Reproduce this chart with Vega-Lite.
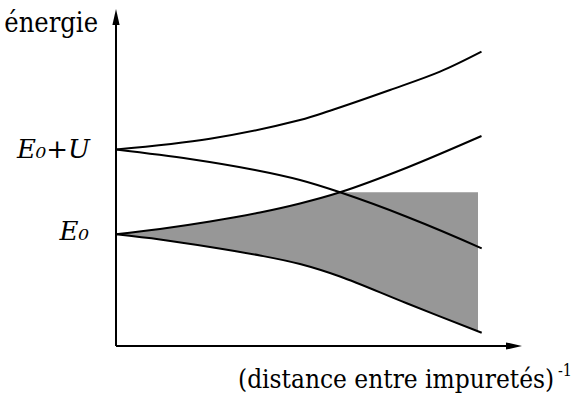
{
  "$schema": "https://vega.github.io/schema/vega-lite/v6.json",
  "width": 406,
  "height": 337,
  "autosize": {"type": "none"},
  "padding": {"left": 116, "top": 9, "right": 57, "bottom": 55},
  "config": {"view": {"stroke": null}},
  "datasets": {
    "curves": [
      {"curve": "A", "x": 0, "e": 196.5},
      {"curve": "A", "x": 94, "e": 207.3},
      {"curve": "A", "x": 184, "e": 226},
      {"curve": "A", "x": 214, "e": 235.3},
      {"curve": "A", "x": 274, "e": 256},
      {"curve": "A", "x": 324, "e": 274.3},
      {"curve": "A", "x": 365.5, "e": 294.3},
      {"curve": "B", "x": 0, "e": 196.5},
      {"curve": "B", "x": 74, "e": 187},
      {"curve": "B", "x": 139, "e": 176},
      {"curve": "B", "x": 184, "e": 166},
      {"curve": "B", "x": 224, "e": 153.7},
      {"curve": "B", "x": 290.7, "e": 129.3},
      {"curve": "B", "x": 365.7, "e": 97.7},
      {"curve": "C", "x": 0, "e": 111.7},
      {"curve": "C", "x": 44, "e": 117},
      {"curve": "C", "x": 94, "e": 124.5},
      {"curve": "C", "x": 144, "e": 133.5},
      {"curve": "C", "x": 184, "e": 142.5},
      {"curve": "C", "x": 224, "e": 153.7},
      {"curve": "C", "x": 290.7, "e": 178.3},
      {"curve": "C", "x": 365.5, "e": 210},
      {"curve": "D", "x": 0, "e": 111.7},
      {"curve": "D", "x": 44, "e": 106.5},
      {"curve": "D", "x": 94, "e": 99},
      {"curve": "D", "x": 144, "e": 90.5},
      {"curve": "D", "x": 184, "e": 82},
      {"curve": "D", "x": 224, "e": 69.5},
      {"curve": "D", "x": 290.7, "e": 42.7},
      {"curve": "D", "x": 365.7, "e": 13.3}
    ],
    "bandLeft": [
      {"x": 0, "top": 111.7, "bottom": 111.7},
      {"x": 44, "top": 117, "bottom": 106.5},
      {"x": 94, "top": 124.5, "bottom": 99},
      {"x": 144, "top": 133.5, "bottom": 90.5},
      {"x": 184, "top": 142.5, "bottom": 82},
      {"x": 224, "top": 153.7, "bottom": 69.5}
    ],
    "bandRight": [
      {"x": 224, "top": 153.7, "bottom": 69.5},
      {"x": 290.7, "top": 153.7, "bottom": 42.7},
      {"x": 362, "top": 153.7, "bottom": 14.7}
    ],
    "axes": [
      {"x": 0, "y": 0, "x2": 0, "y2": 329},
      {"x": 0, "y": 0, "x2": 398, "y2": 0}
    ],
    "arrows": [
      {"dir": "up", "x": 0, "y": 329},
      {"dir": "right", "x": 398, "y": 0}
    ],
    "plainRight": [
      {"label": "énergie", "x": -18, "y": 314}
    ],
    "italicRight": [
      {"label": "E₀+U", "x": -26, "y": 188},
      {"label": "E₀", "x": -27, "y": 106}
    ],
    "xlabel": [
      {"label": "(distance entre impuretés)", "x": 122, "y": -42}
    ],
    "sup": [
      {"label": "-1", "x": 442, "y": -30}
    ]
  },
  "layer": [
    {
      "data": {"name": "bandLeft"},
      "mark": {"type": "area", "color": "#979797", "interpolate": "catmull-rom"},
      "encoding": {
        "x": {"field": "x", "type": "quantitative", "scale": {"domain": [0, 406], "nice": false, "zero": false}, "axis": null},
        "y": {"field": "top", "type": "quantitative", "scale": {"domain": [0, 337], "nice": false, "zero": false}, "axis": null},
        "y2": {"field": "bottom"}
      }
    },
    {
      "data": {"name": "bandRight"},
      "mark": {"type": "area", "color": "#979797", "interpolate": "catmull-rom"},
      "encoding": {
        "x": {"field": "x", "type": "quantitative"},
        "y": {"field": "top", "type": "quantitative"},
        "y2": {"field": "bottom"}
      }
    },
    {
      "data": {"name": "curves"},
      "mark": {"type": "line", "color": "black", "strokeWidth": 2, "interpolate": "catmull-rom"},
      "encoding": {
        "x": {"field": "x", "type": "quantitative"},
        "y": {"field": "e", "type": "quantitative"},
        "detail": {"field": "curve"}
      }
    },
    {
      "data": {"name": "axes"},
      "mark": {"type": "rule", "color": "black", "strokeWidth": 2},
      "encoding": {
        "x": {"field": "x", "type": "quantitative"},
        "y": {"field": "y", "type": "quantitative"},
        "x2": {"field": "x2"},
        "y2": {"field": "y2"}
      }
    },
    {
      "data": {"name": "arrows"},
      "mark": {"type": "point", "filled": true, "color": "black", "opacity": 1, "size": 256},
      "encoding": {
        "x": {"field": "x", "type": "quantitative"},
        "y": {"field": "y", "type": "quantitative"},
        "shape": {"field": "dir", "type": "nominal", "scale": {"domain": ["up", "right"], "range": ["M0,-1L0.45,1L-0.45,1Z", "M1,0L-1,0.45L-1,-0.45Z"]}, "legend": null}
      }
    },
    {
      "data": {"name": "plainRight"},
      "mark": {"type": "text", "align": "right", "baseline": "alphabetic", "font": "DejaVu Serif Condensed", "fontSize": 27, "color": "black"},
      "encoding": {
        "x": {"field": "x", "type": "quantitative"},
        "y": {"field": "y", "type": "quantitative"},
        "text": {"field": "label"}
      }
    },
    {
      "data": {"name": "italicRight"},
      "mark": {"type": "text", "align": "right", "baseline": "alphabetic", "font": "DejaVu Serif", "fontStyle": "italic", "fontSize": 26, "color": "black"},
      "encoding": {
        "x": {"field": "x", "type": "quantitative"},
        "y": {"field": "y", "type": "quantitative"},
        "text": {"field": "label"}
      }
    },
    {
      "data": {"name": "xlabel"},
      "mark": {"type": "text", "align": "left", "baseline": "alphabetic", "font": "DejaVu Serif Condensed", "fontSize": 26, "color": "black"},
      "encoding": {
        "x": {"field": "x", "type": "quantitative"},
        "y": {"field": "y", "type": "quantitative"},
        "text": {"field": "label"}
      }
    },
    {
      "data": {"name": "sup"},
      "mark": {"type": "text", "align": "left", "baseline": "alphabetic", "font": "DejaVu Serif Condensed", "fontSize": 16, "color": "black"},
      "encoding": {
        "x": {"field": "x", "type": "quantitative"},
        "y": {"field": "y", "type": "quantitative"},
        "text": {"field": "label"}
      }
    }
  ]
}
